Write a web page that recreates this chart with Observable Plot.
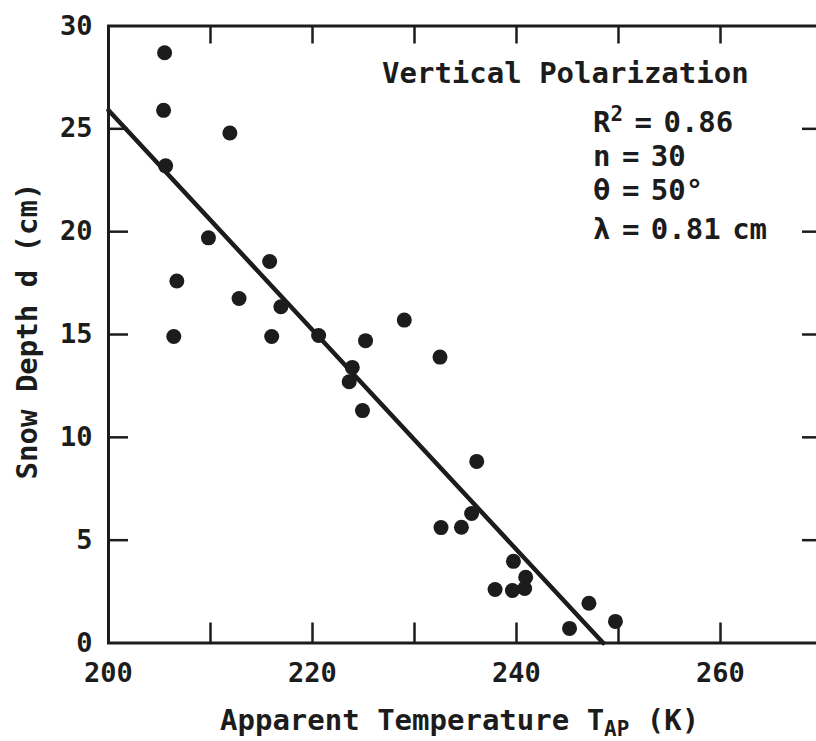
<!DOCTYPE html>
<html>
<head>
<meta charset="utf-8">
<script src="https://cdn.jsdelivr.net/npm/d3@7"></script>
<script src="https://cdn.jsdelivr.net/npm/@observablehq/plot@0.6"></script>
<style>
  html, body { margin: 0; padding: 0; background: #fff; overflow: hidden; }
</style>
</head>
<body>
<div id="chart"></div>
<script>
// Apparent brightness temperature (K) and measured snow depth (cm), vertical polarization
const temperature = [205.5, 205.4, 205.6, 211.9, 209.8, 206.7, 206.4, 212.8, 215.8, 216.9,
                     216.0, 220.6, 225.2, 223.9, 223.6, 224.9, 229.0, 232.5, 236.1, 232.6,
                     234.6, 235.6, 239.7, 240.9, 239.6, 240.8, 237.9, 247.1, 245.2, 249.7];
const depth = [28.7, 25.9, 23.2, 24.8, 19.7, 17.6, 14.9, 16.75, 18.55, 16.35,
               14.9, 14.95, 14.7, 13.4, 12.7, 11.3, 15.7, 13.9, 8.83, 5.61,
               5.63, 6.3, 3.97, 3.2, 2.55, 2.65, 2.6, 1.93, 0.71, 1.05];

// Least-squares fit line, end points
const fitTemperature = [200, 248.5];
const fitDepth = [25.9, 0];

// Axes
const xDomain = [200, 270];
const yDomain = [0, 30];
const xTickMarks = [210, 220, 230, 240, 250, 260];
const xTickLabels = [200, 220, 240, 260];
const yTickMarks = [5, 10, 15, 20, 25];
const yTickLabels = [0, 5, 10, 15, 20, 25, 30];

// Annotation text
const panelTitle = "Vertical Polarization";
const statLines = [
  [["R", ""], ["2", "sup"], [" = 0.86", ""]],
  [["n = 30", ""]],
  [["θ = 50°", ""]],
  [["λ = 0.81 cm", ""]]
];
const xTitle = [["Apparent Temperature T", ""], ["AP", "sub"], [" (K)", ""]];
const yTitle = "Snow Depth d (cm)";

const points = temperature.map((t, i) => ({t, d: depth[i]}));
const fit = fitTemperature.map((t, i) => ({t, d: fitDepth[i]}));

const W = 830, H = 741, mL = 108, mR = 8, mT = 25.5, mB = 98.5;
const innerW = W - mL - mR;
const innerH = H - mT - mB;
const ink = "#1c1c1c";
const mono = "'DejaVu Sans Mono', monospace";

const chart = Plot.plot({
  width: W,
  height: H,
  marginLeft: mL,
  marginRight: mR,
  marginTop: mT,
  marginBottom: mB,
  x: {domain: xDomain},
  y: {domain: yDomain},
  style: {fontFamily: mono, fontWeight: "bold", background: "#fff", color: ink, maxWidth: "none"},
  marks: [
    Plot.frame({stroke: ink, strokeWidth: 3}),
    // inward ticks on all four sides
    Plot.tickX(xTickMarks, {x: d => d, insetTop: innerH - 20, stroke: ink, strokeWidth: 2.5}),
    Plot.tickX(xTickMarks, {x: d => d, insetBottom: innerH - 18, stroke: ink, strokeWidth: 2.5}),
    Plot.tickY(yTickMarks, {y: d => d, insetRight: innerW - 20, stroke: ink, strokeWidth: 2.5}),
    Plot.tickY(yTickMarks, {y: d => d, insetLeft: innerW - 20, stroke: ink, strokeWidth: 2.5}),
    Plot.axisX({ticks: xTickLabels, tickSize: 0, tickPadding: 20, fontSize: 27, label: null}),
    Plot.axisY({ticks: yTickLabels, tickSize: 0, tickPadding: 16, fontSize: 27, label: null}),
    Plot.line(fit, {x: "t", y: "d", stroke: ink, strokeWidth: 4.5}),
    Plot.dot(points, {x: "t", y: "d", r: 7.5, fill: ink})
  ]
});

document.getElementById("chart").append(chart);

const svg = d3.select(chart);

// Append text runs, with raised or lowered pieces for super/subscripts
function addRich(parent, parts, size) {
  let prevKind = "";
  parts.forEach(([str, kind]) => {
    const ts = parent.append("tspan").text(str);
    if (kind === "sup") ts.attr("font-size", size * 0.72).attr("dy", -11);
    else if (kind === "sub") ts.attr("font-size", size * 0.72).attr("dy", 6);
    else if (prevKind === "sup") ts.attr("dy", 11);
    else if (prevKind === "sub") ts.attr("dy", -6);
    prevKind = kind;
  });
}

const textStyle = g => g
  .attr("fill", ink)
  .attr("font-family", mono)
  .attr("font-weight", "bold")
  .attr("text-anchor", "start");

svg.append("text").call(textStyle)
  .attr("x", 382).attr("y", 83).attr("font-size", 29)
  .text(panelTitle);

const statBaselines = [132, 166, 200, 239];
statLines.forEach((parts, i) => {
  const t = svg.append("text").call(textStyle)
    .attr("x", 593).attr("y", statBaselines[i]).attr("font-size", 29)
    .style("word-spacing", "-6px")
    .style("white-space", "pre");
  addRich(t, parts, 29);
});

const xt = svg.append("text").call(textStyle)
  .attr("x", 220).attr("y", 730).attr("font-size", 29)
  .style("white-space", "pre");
addRich(xt, xTitle, 29);

svg.append("text").call(textStyle)
  .attr("transform", "translate(37,331) rotate(-90)")
  .attr("text-anchor", "middle").attr("font-size", 29)
  .text(yTitle);
</script>
</body>
</html>
